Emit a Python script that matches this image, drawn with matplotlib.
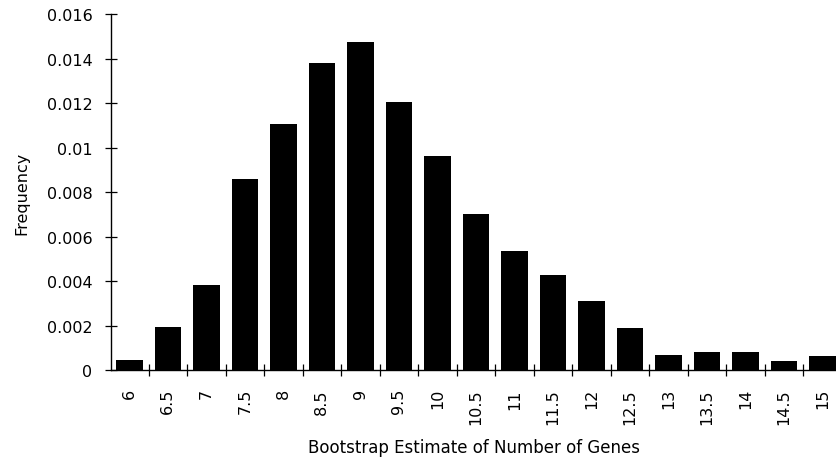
import numpy as np
import matplotlib
matplotlib.use("Agg")
from matplotlib import pyplot as plt

#* the scan's lettering is wide, DejaVu Sans comes closest
plt.rcParams["font.family"] = ["DejaVu Sans"]

#* bootstrap estimates and their frequencies
estimates = ["6", "6.5", "7", "7.5", "8", "8.5", "9", "9.5", "10", "10.5",
             "11", "11.5", "12", "12.5", "13", "13.5", "14", "14.5", "15"]
frequency = [0.00045, 0.00194, 0.00383, 0.00857, 0.01108, 0.0138, 0.01473,
             0.01203, 0.00963, 0.00703, 0.00536, 0.00429, 0.00308, 0.00189,
             0.00069, 0.0008, 0.0008, 0.00039, 0.00062]
y_ticks = [0, 0.002, 0.004, 0.006, 0.008, 0.01, 0.012, 0.014, 0.016]
y_labels = ["0", "0.002", "0.004", "0.006", "0.008", "0.01", "0.012", "0.014", "0.016"]

fig = plt.figure(figsize=(8.36, 4.6), dpi=100)
ax = fig.add_axes([0.1328, 0.1935, 0.8672, 0.7735])

pos = np.arange(len(estimates))
ax.bar(pos, frequency, width=0.69, color="black")

ax.set_xlim(-0.475, 18.35)
ax.set_ylim(0, 0.016)

ax.spines["top"].set_visible(False)
ax.spines["right"].set_visible(False)
ax.spines["left"].set_linewidth(1.0)
ax.spines["bottom"].set_linewidth(1.0)

ax.set_yticks(y_ticks)
ax.set_yticklabels(y_labels, fontsize=11.5)
ax.tick_params(axis="y", direction="inout", length=9, width=0.9, pad=9)

#* category labels at bar centres, tick marks between the categories
ax.set_xticks(pos)
ax.set_xticklabels(estimates, rotation=90, fontsize=11.5)
ax.tick_params(axis="x", which="major", length=0, pad=13)
ax.set_xticks(pos[:-1] + 0.5, minor=True)
ax.tick_params(axis="x", which="minor", direction="inout", length=9, width=0.9)

ax.set_xlabel("Bootstrap Estimate of Number of Genes", fontsize=12, labelpad=10)
ax.set_ylabel("Frequency", fontsize=11.5, labelpad=12)

fig.savefig("out.png", dpi=100)
